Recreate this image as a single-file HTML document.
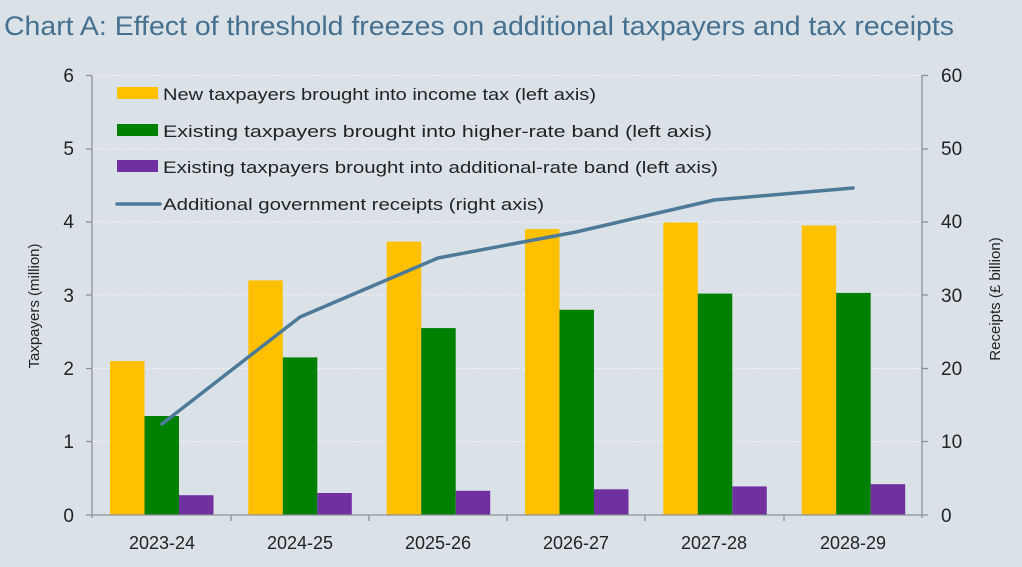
<!DOCTYPE html>
<html><head><meta charset="utf-8"><style>
html,body{margin:0;padding:0;background:#dae2e8;}
svg{display:block;font-family:"Liberation Sans",sans-serif;}
</style></head><body>
<svg width="1022" height="567" viewBox="0 0 1022 567" xmlns="http://www.w3.org/2000/svg">
<rect width="1022" height="567" fill="#dae2e8"/>
<text x="4" y="35" font-size="27" fill="#46708f" textLength="950" lengthAdjust="spacingAndGlyphs">Chart A: Effect of threshold freezes on additional taxpayers and tax receipts</text>
<g stroke="#eef2f5" stroke-width="1" stroke-dasharray="3,2">
<line x1="92" x2="922" y1="75.5" y2="75.5"/><line x1="92" x2="922" y1="149" y2="149"/>
<line x1="92" x2="922" y1="222" y2="222"/><line x1="92" x2="922" y1="295" y2="295"/>
<line x1="92" x2="922" y1="368.5" y2="368.5"/><line x1="92" x2="922" y1="441.5" y2="441.5"/>
</g>
<g fill="#ffc000">
<rect x="110" y="361.1" width="34.5" height="153.9"/>
<rect x="248.3" y="280.4" width="34.5" height="234.6"/>
<rect x="386.7" y="241.6" width="34.5" height="273.4"/>
<rect x="525" y="229.1" width="34.5" height="285.9"/>
<rect x="663.3" y="222.5" width="34.5" height="292.5"/>
<rect x="801.7" y="225.5" width="34.5" height="289.5"/>
</g>
<g fill="#008000">
<rect x="144.5" y="416" width="34.5" height="99"/>
<rect x="282.8" y="357.4" width="34.5" height="157.6"/>
<rect x="421.2" y="328.1" width="34.5" height="186.9"/>
<rect x="559.5" y="309.8" width="34.5" height="205.2"/>
<rect x="697.8" y="293.6" width="34.5" height="221.4"/>
<rect x="836.2" y="292.9" width="34.5" height="222.1"/>
</g>
<g fill="#7030a0">
<rect x="179" y="495.2" width="34.5" height="19.8"/>
<rect x="317.3" y="493" width="34.5" height="22"/>
<rect x="455.7" y="490.8" width="34.5" height="24.2"/>
<rect x="594" y="489.3" width="34.5" height="25.7"/>
<rect x="732.3" y="486.4" width="34.5" height="28.6"/>
<rect x="870.7" y="484.2" width="34.5" height="30.8"/>
</g>
<g stroke="#8a9196" stroke-width="1.3" fill="none">
<line x1="92" y1="75" x2="92" y2="518"/><line x1="922" y1="75" x2="922" y2="518"/>
<line x1="86" y1="515" x2="928" y2="515"/>
<line x1="86" y1="75.5" x2="92" y2="75.5"/><line x1="86" y1="149" x2="92" y2="149"/><line x1="86" y1="222" x2="92" y2="222"/><line x1="86" y1="295" x2="92" y2="295"/><line x1="86" y1="368.5" x2="92" y2="368.5"/><line x1="86" y1="441.5" x2="92" y2="441.5"/>
<line x1="922" y1="75.5" x2="928" y2="75.5"/><line x1="922" y1="149" x2="928" y2="149"/><line x1="922" y1="222" x2="928" y2="222"/><line x1="922" y1="295" x2="928" y2="295"/><line x1="922" y1="368.5" x2="928" y2="368.5"/><line x1="922" y1="441.5" x2="928" y2="441.5"/>
<line x1="231" y1="515" x2="231" y2="521"/><line x1="369" y1="515" x2="369" y2="521"/><line x1="507" y1="515" x2="507" y2="521"/><line x1="645" y1="515" x2="645" y2="521"/><line x1="784" y1="515" x2="784" y2="521"/>
</g>
<g font-size="19" fill="#222" text-anchor="end">
<text x="74" y="82">6</text><text x="74" y="155">5</text><text x="74" y="228">4</text><text x="74" y="302">3</text><text x="74" y="375">2</text><text x="74" y="448">1</text><text x="74" y="522">0</text>
</g>
<g font-size="19" fill="#222" text-anchor="start">
<text x="941" y="82">60</text><text x="941" y="155">50</text><text x="941" y="228">40</text><text x="941" y="302">30</text><text x="941" y="375">20</text><text x="941" y="448">10</text><text x="941" y="522">0</text>
</g>
<g font-size="18" fill="#222" text-anchor="middle">
<text x="162" y="549">2023-24</text><text x="300" y="549">2024-25</text><text x="438" y="549">2025-26</text><text x="576" y="549">2026-27</text><text x="714" y="549">2027-28</text><text x="853" y="549">2028-29</text>
</g>
<text transform="translate(39,306) rotate(-90)" font-size="15" fill="#222" text-anchor="middle">Taxpayers (million)</text>
<text transform="translate(1000,299) rotate(-90)" font-size="15" fill="#222" text-anchor="middle">Receipts (£ billion)</text>
<polyline fill="none" stroke="#4d7a99" stroke-width="3.5" stroke-linecap="round" stroke-linejoin="round" points="162,424 300,317 438,258 576,232 714,200 853,188"/>
<rect x="117" y="87" width="41" height="12" fill="#ffc000"/>
<rect x="117" y="124" width="41" height="12" fill="#008000"/>
<rect x="117" y="160" width="41" height="12" fill="#7030a0"/>
<line x1="117" y1="204" x2="160" y2="204" stroke="#4d7a99" stroke-width="3.5" stroke-linecap="round"/>
<g font-size="17" fill="#222">
<text x="163" y="100" textLength="433" lengthAdjust="spacingAndGlyphs">New taxpayers brought into income tax (left axis)</text>
<text x="163" y="137" textLength="549" lengthAdjust="spacingAndGlyphs">Existing taxpayers brought into higher-rate band (left axis)</text>
<text x="163" y="173" textLength="555" lengthAdjust="spacingAndGlyphs">Existing taxpayers brought into additional-rate band (left axis)</text>
<text x="163" y="210" textLength="381" lengthAdjust="spacingAndGlyphs">Additional government receipts (right axis)</text>
</g>
</svg>
</body></html>
